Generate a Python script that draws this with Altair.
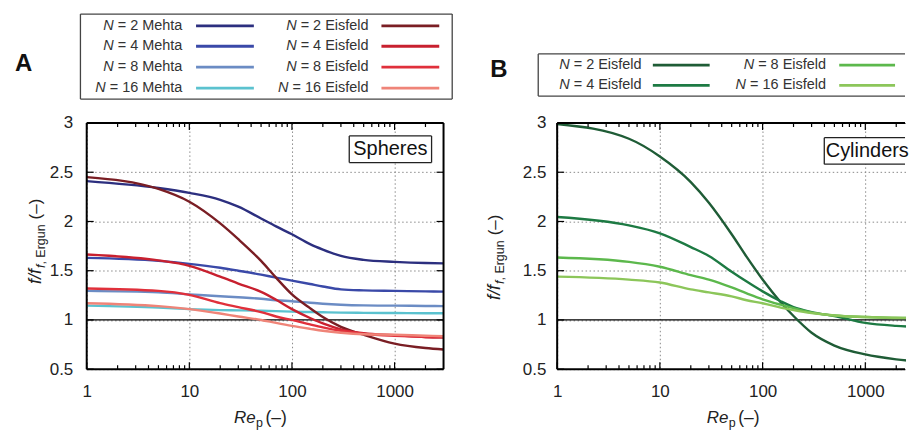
import altair as alt
import pandas as pd

FONT = "Liberation Sans"

# Particle Reynolds numbers at which every curve is sampled
RE = [1, 5, 10, 20, 30, 50, 70, 100, 150, 200, 300, 500, 1000, 2000, 3000]

N_VALUES = [2, 4, 8, 16]

# Spheres, Mehta correlation, f / f_Ergun
SPH_MEHTA_2 = [2.41, 2.34, 2.29, 2.22, 2.15, 2.03, 1.95, 1.87, 1.77, 1.715, 1.65, 1.61, 1.59, 1.578, 1.575]
SPH_MEHTA_4 = [1.63, 1.60, 1.57, 1.53, 1.50, 1.46, 1.43, 1.40, 1.365, 1.34, 1.31, 1.30, 1.295, 1.29, 1.288]
SPH_MEHTA_8 = [1.295, 1.28, 1.26, 1.24, 1.23, 1.215, 1.20, 1.19, 1.175, 1.165, 1.155, 1.148, 1.145, 1.142, 1.14]
SPH_MEHTA_16 = [1.145, 1.125, 1.11, 1.10, 1.097, 1.094, 1.09, 1.084, 1.08, 1.078, 1.074, 1.072, 1.07, 1.068, 1.068]

# Spheres, Eisfeld correlation
SPH_EIS_2 = [2.45, 2.33, 2.20, 1.98, 1.82, 1.60, 1.43, 1.26, 1.12, 1.03, 0.93, 0.85, 0.76, 0.715, 0.70]
SPH_EIS_4 = [1.665, 1.605, 1.55, 1.44, 1.37, 1.285, 1.205, 1.11, 1.02, 0.965, 0.905, 0.865, 0.845, 0.825, 0.82]
SPH_EIS_8 = [1.32, 1.295, 1.255, 1.17, 1.13, 1.08, 1.035, 1.0, 0.955, 0.925, 0.89, 0.86, 0.84, 0.83, 0.828]
SPH_EIS_16 = [1.17, 1.14, 1.11, 1.065, 1.035, 1.0, 0.97, 0.94, 0.91, 0.89, 0.87, 0.855, 0.85, 0.84, 0.835]

# Cylinders, Eisfeld correlation
CYL_EIS_2 = [2.99, 2.84, 2.66, 2.40, 2.19, 1.87, 1.64, 1.41, 1.18, 1.04, 0.87, 0.74, 0.65, 0.60, 0.58]
CYL_EIS_4 = [2.045, 1.96, 1.88, 1.74, 1.65, 1.49, 1.39, 1.29, 1.19, 1.13, 1.08, 1.04, 0.97, 0.94, 0.93]
CYL_EIS_8 = [1.634, 1.59, 1.54, 1.455, 1.41, 1.33, 1.27, 1.21, 1.155, 1.12, 1.075, 1.045, 1.03, 1.02, 1.02]
CYL_EIS_16 = [1.44, 1.41, 1.38, 1.31, 1.28, 1.24, 1.20, 1.17, 1.125, 1.10, 1.07, 1.045, 1.03, 1.022, 1.02]

MEHTA_COLORS = ["#2c2f7f", "#3a49a8", "#6b8cc4", "#5bc2cf"]
EIS_SPH_COLORS = ["#7a1e24", "#c8202f", "#e0303b", "#ef8478"]
EIS_CYL_COLORS = ["#1f5c36", "#1d7a43", "#5cb84c", "#8cc65a"]

# Liberation Sans advance widths (per 1000 em) used to place the italic "N"
ADV = {" ": 278, "=": 584, "M": 833, "e": 556, "h": 556, "t": 278, "a": 556,
       "E": 667, "i": 222, "s": 500, "f": 278, "l": 222, "d": 556, "N": 722,
       ",": 278, "r": 333, "g": 556, "u": 556, "n": 556, "(": 333, ")": 333,
       "\u2013": 556, "/": 278, "R": 722, "p": 556}


def text_w(s, size):
    return sum(ADV.get(ch, 556) for ch in s) * size / 1000.0


ONE = pd.DataFrame({"k": [0]})
LEG_FS = 14.5


def hline(x1, x2, y, width, color="black"):
    return (alt.Chart(ONE).mark_rule(color=color, strokeWidth=width)
            .encode(x=alt.value(x1), x2=alt.value(x2), y=alt.value(y)))


def vline(x, y1, y2, width, color="black"):
    return (alt.Chart(ONE).mark_rule(color=color, strokeWidth=width)
            .encode(x=alt.value(x), y=alt.value(y1), y2=alt.value(y2)))


def box(x1, x2, y1, y2, width, color, open_right):
    parts = [alt.Chart(ONE).mark_rect(fill="white")
             .encode(x=alt.value(x1), x2=alt.value(x2), y=alt.value(y1), y2=alt.value(y2)),
             hline(x1, x2, y1, width, color), hline(x1, x2, y2, width, color),
             vline(x1, y1, y2, width, color)]
    if not open_right:
        parts.append(vline(x2, y1, y2, width, color))
    return parts


def build_panel(names, curves, colors, W, H, xmax, lay):
    open_right = lay["open_right"]
    xs = alt.Scale(type="log", domain=[1, xmax], nice=False)
    ys = alt.Scale(domain=[0.5, 3], nice=False, zero=False)
    common = dict(title=None, ticks=False, domain=False, grid=True,
                  gridDash=[1.5, 2.5], gridColor="#8a8a8a", gridWidth=1,
                  labelFont=FONT, labelFontSize=17, labelColor="#222",
                  labelFlush=False, labelOverlap=False)
    xaxis = alt.Axis(values=[1, 10, 100, 1000], format="d",
                     labelPadding=lay["xpad"], **common)
    yaxis = alt.Axis(values=[0.5, 1, 1.5, 2, 2.5, 3], format="~g",
                     labelPadding=lay["ypad"], **common)
    X = alt.X("Re:Q", scale=xs, axis=xaxis)
    Y = alt.Y("v:Q", scale=ys, axis=yaxis)
    color = alt.Color("series:N", scale=alt.Scale(domain=names, range=colors), legend=None)

    rows = []
    for name, vals in zip(names, curves):
        for re, v in zip(RE, vals):
            rows.append({"Re": re, "v": v, "series": name})
    df = pd.DataFrame(rows)

    layers = []

    # horizontal reference at f / f_Ergun = 1
    layers.append(alt.Chart(pd.DataFrame({"v": [1.0]}))
                  .mark_rule(color="black", strokeWidth=1.3).encode(y=Y))

    # curves
    layers.append(alt.Chart(df).mark_line(strokeWidth=2.4, clip=True, interpolate="monotone")
                  .encode(x=X, y=Y, color=color, detail="series:N"))

    # inward ticks on all four sides
    major_x = pd.DataFrame({"Re": [1, 10, 100, 1000]})
    minor_x = pd.DataFrame({"Re": [m * 10 ** k for k in range(4) for m in range(2, 10)
                                   if m * 10 ** k < xmax]})
    for tdf, ln in ((major_x, 7), (minor_x, 4)):
        layers.append(alt.Chart(tdf).mark_rule(color="black", strokeWidth=1.2)
                      .encode(x=X, y=alt.value(H), y2=alt.value(H - ln)))
        layers.append(alt.Chart(tdf).mark_rule(color="black", strokeWidth=1.2)
                      .encode(x=X, y=alt.value(0), y2=alt.value(ln)))
    major_y = pd.DataFrame({"v": [0.5, 1, 1.5, 2, 2.5, 3]})
    layers.append(alt.Chart(major_y).mark_rule(color="black", strokeWidth=1.2)
                  .encode(y=Y, x=alt.value(0), x2=alt.value(7)))
    if not open_right:
        layers.append(alt.Chart(major_y).mark_rule(color="black", strokeWidth=1.2)
                      .encode(y=Y, x=alt.value(W), x2=alt.value(W - 7)))

    # plot frame
    xr = W if not open_right else W - 1
    layers += [hline(0, xr, 0, 2), hline(0, xr, H, 2), vline(0, 0, H, 2)]
    if not open_right:
        layers.append(vline(W, 0, H, 2))

    # particle-shape tag
    tb = lay["tag_box"]
    layers += box(tb[0], tb[1], tb[2], tb[3], 1.3, "#222", open_right)
    tx, ty, talign = lay["tag_text"]
    layers.append(alt.Chart(ONE).mark_text(text=lay["tag"], font=FONT, fontSize=20,
                                           align=talign, baseline="middle", color="#111")
                  .encode(x=alt.value(tx), y=alt.value(ty)))

    # legend box with right-aligned labels and line swatches
    nrows = len(lay["rows"])
    recs = []
    for i, name in enumerate(names):
        c, r = divmod(i, nrows)
        rest = name[1:]
        lx = lay["label_right"][c]
        recs.append({"series": name, "nlab": "N", "rest": rest, "lx": lx,
                     "nx": lx - text_w(rest, LEG_FS), "ly": lay["rows"][r],
                     "sx1": lay["swatch"][c][0], "sx2": lay["swatch"][c][1]})
    leg = pd.DataFrame(recs)
    lb = lay["leg_box"]
    layers += box(lb[0], lb[1], lb[2], lb[3], 1.3, "#444", open_right)
    layers.append(alt.Chart(leg).mark_text(align="right", baseline="middle", font=FONT,
                                           fontSize=LEG_FS, color="#333")
                  .encode(x=alt.X("lx:Q", scale=None), y=alt.Y("ly:Q", scale=None),
                          text="rest:N"))
    layers.append(alt.Chart(leg).mark_text(align="right", baseline="middle", font=FONT,
                                           fontSize=LEG_FS, fontStyle="italic", color="#333")
                  .encode(x=alt.X("nx:Q", scale=None), y=alt.Y("ly:Q", scale=None),
                          text="nlab:N"))
    layers.append(alt.Chart(leg).mark_rule(strokeWidth=2.8)
                  .encode(x=alt.X("sx1:Q", scale=None), x2="sx2:Q",
                          y=alt.Y("ly:Q", scale=None), color=color))

    # panel letter
    px, py = lay["letter_pos"]
    layers.append(alt.Chart(ONE).mark_text(text=lay["letter"], font=FONT, fontSize=24,
                                           fontWeight="bold", align="center",
                                           baseline="middle", color="#111")
                  .encode(x=alt.value(px), y=alt.value(py)))

    # y title: f/f_{f, Ergun} (–), rotated
    bx, by = lay["ytitle"]
    w_main = text_w("f/f", 18)
    w_sub = text_w("f, Ergun", 12.5)
    for txt, dx, dy, fs, style in (("f/f", 0, 0, 18, "italic"),
                                   ("f", 4, -(w_main + 1), 12.5, "italic"),
                                   (", Ergun", 4, -(w_main + 1 + text_w("f", 12.5)), 12.5, "normal"),
                                   ("(\u2013)", 0, -(w_main + w_sub + 6), 17, "normal")):
        layers.append(alt.Chart(ONE).mark_text(text=txt, font=FONT, fontSize=fs,
                                               fontStyle=style, angle=270, align="left",
                                               baseline="alphabetic", color="#222")
                      .encode(x=alt.value(bx + dx), y=alt.value(by + dy)))

    # x title: Re_p (–)
    rx, ry = lay["xtitle"]
    w_re = text_w("Re", 17)
    for txt, dx, dy, fs, style in (("Re", 0, 0, 17, "italic"),
                                   ("p", w_re + 0.5, 4, 12.5, "normal"),
                                   ("(\u2013)", w_re + text_w("p", 12.5) + 3, 0, 17.5, "normal")):
        layers.append(alt.Chart(ONE).mark_text(text=txt, font=FONT, fontSize=fs,
                                               fontStyle=style, align="left",
                                               baseline="alphabetic", color="#222")
                      .encode(x=alt.value(rx + dx), y=alt.value(ry + dy)))

    return alt.layer(*layers).properties(width=W, height=H)


names_a = [f"N = {n} Mehta" for n in N_VALUES] + [f"N = {n} Eisfeld" for n in N_VALUES]
curves_a = [SPH_MEHTA_2, SPH_MEHTA_4, SPH_MEHTA_8, SPH_MEHTA_16,
            SPH_EIS_2, SPH_EIS_4, SPH_EIS_8, SPH_EIS_16]
names_b = [f"N = {n} Eisfeld" for n in N_VALUES]
curves_b = [CYL_EIS_2, CYL_EIS_4, CYL_EIS_8, CYL_EIS_16]

W_A, W_B, H = 358, 350, 247

lay_a = {
    "open_right": False,
    "xpad": 14, "ypad": 14,
    "tag": "Spheres", "tag_box": (263.4, 346, 13, 39.7), "tag_text": (304.7, 26.3, "center"),
    "leg_box": (-6.3, 366.7, -109.3, -24),
    "rows": [-97.5, -77, -56, -35],
    "label_right": [96, 282.7],
    "swatch": [(109.7, 167.7), (295.7, 353.7)],
    "letter": "A", "letter_pos": (-63.3, -59),
    "ytitle": (-46.3, 161.5),
    "xtitle": (147.7, 301),
}
lay_b = {
    "open_right": True,
    "xpad": 14, "ypad": 11.3,
    "tag": "Cylinders", "tag_box": (268, W_B - 1, 14.7, 41.3), "tag_text": (269.5, 28, "left"),
    "leg_box": (-19, W_B - 1, -69.3, -27),
    "rows": [-58, -37.7],
    "label_right": [84.7, 269.7],
    "swatch": [(96, 153), (283, 339)],
    "letter": "B", "letter_pos": (-58.5, -53),
    "ytitle": (-57, 177.5),
    "xtitle": (150, 301),
}

panel_a = build_panel(names_a, curves_a, MEHTA_COLORS + EIS_SPH_COLORS, W_A, H, 3000, lay_a)
# panel B runs off the right edge at about Re_p = 2490
panel_b = build_panel(names_b, curves_b, EIS_CYL_COLORS, W_B, H, 2490, lay_b)

chart = (
    alt.hconcat(panel_a, panel_b, spacing=33)
    .resolve_scale(color="independent")
    .properties(padding={"left": 15, "top": 12.7, "right": 0, "bottom": 0},
                background="white")
    .configure_view(stroke=None)
)

chart.save("out.html", embed_options={"renderer": "svg", "actions": False})
